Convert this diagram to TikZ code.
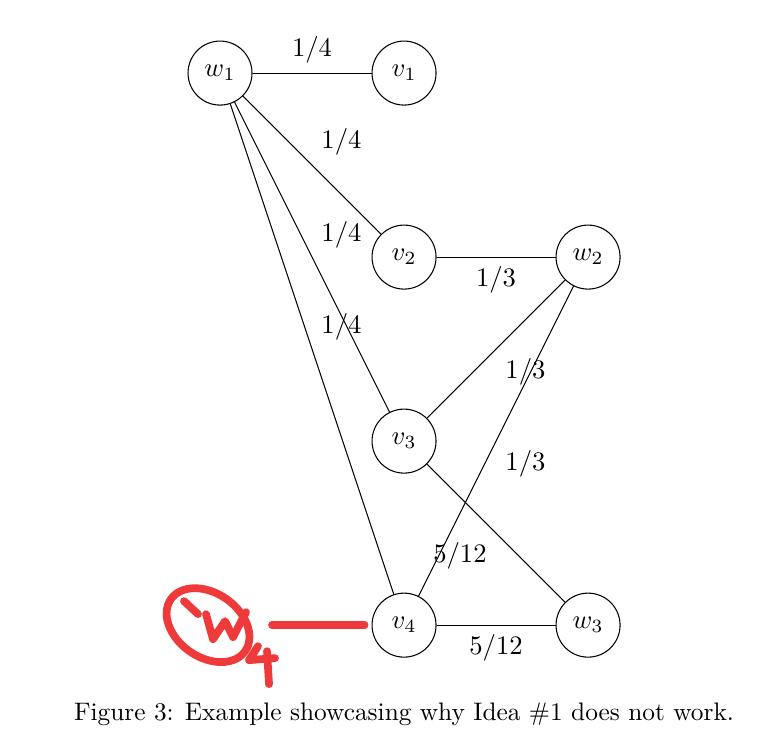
\documentclass[tikz,border=0pt]{standalone}
\usepackage{tikz}
\usetikzlibrary{positioning}
\definecolor{markRed}{HTML}{EE3A3A}

\begin{document}
\begin{tikzpicture}[
  node distance=69pt and 69pt, on grid,
  vertex/.style={circle, draw, minimum size=24pt, inner sep=0pt},
  scribble/.style={markRed, line width=2.9pt, line cap=round, line join=round}
]
  \useasboundingbox (-82.5pt,27.4pt) rectangle (208.1pt,-248.6pt);
  \node[vertex] (w1) {$w_1$};
  \node[vertex, right=of w1] (v1) {$v_1$};
  \node[vertex, below=of v1] (v2) {$v_2$};
  \node[vertex, right=of v2] (w2) {$w_2$};
  \node[vertex, below=of v2] (v3) {$v_3$};
  \node[vertex, below=of v3] (v4) {$v_4$};
  \node[vertex, right=of v4] (w3) {$w_3$};

  \draw (w1) -- node[above] {$1/4$} (v1);
  \draw (w1) -- node[above right] {$1/4$} (v2);
  \draw (w1) -- node[above right] {$1/4$} (v3);
  \draw (w1) -- node[above right] {$1/4$} (v4);
  \draw (v2) -- node[below] {$1/3$} (w2);
  \draw (w2) -- node[below right] {$1/3$} (v3);
  \draw (w2) -- node[below right] {$1/3$} (v4);
  \draw (v3) -- node[below left] {$5/12$} (w3);
  \draw (v4) -- node[below] {$5/12$} (w3);

  \coordinate[left=73.5pt of v4] (w4mark);
  \coordinate[left=49.5pt of v4] (w4tail);
  \draw[scribble, rotate around={-35:(w4mark)}] (w4mark) ellipse [x radius=17pt, y radius=12pt];
  \begin{scope}[shift={(w4mark)}, x=0.375pt, y=-0.375pt, scribble]
    \draw (-24,-24) -- (-10,-11);
    \draw (-2,-11) -- (5,14) -- (17,-4) -- (25,12) -- (38,-13);
    \draw (50,21) -- (41,35) -- (67,33);
    \draw (59,26) -- (61,59);
  \end{scope}
  \draw[scribble, shorten >=2.6pt] (w4tail) -- (v4.west);

  \node[below=33.4pt of v4, font=\fontsize{9.5}{11}\selectfont] (caption) {Figure 3: Example showcasing why Idea \#1 does not work.};
\end{tikzpicture}
\end{document}
